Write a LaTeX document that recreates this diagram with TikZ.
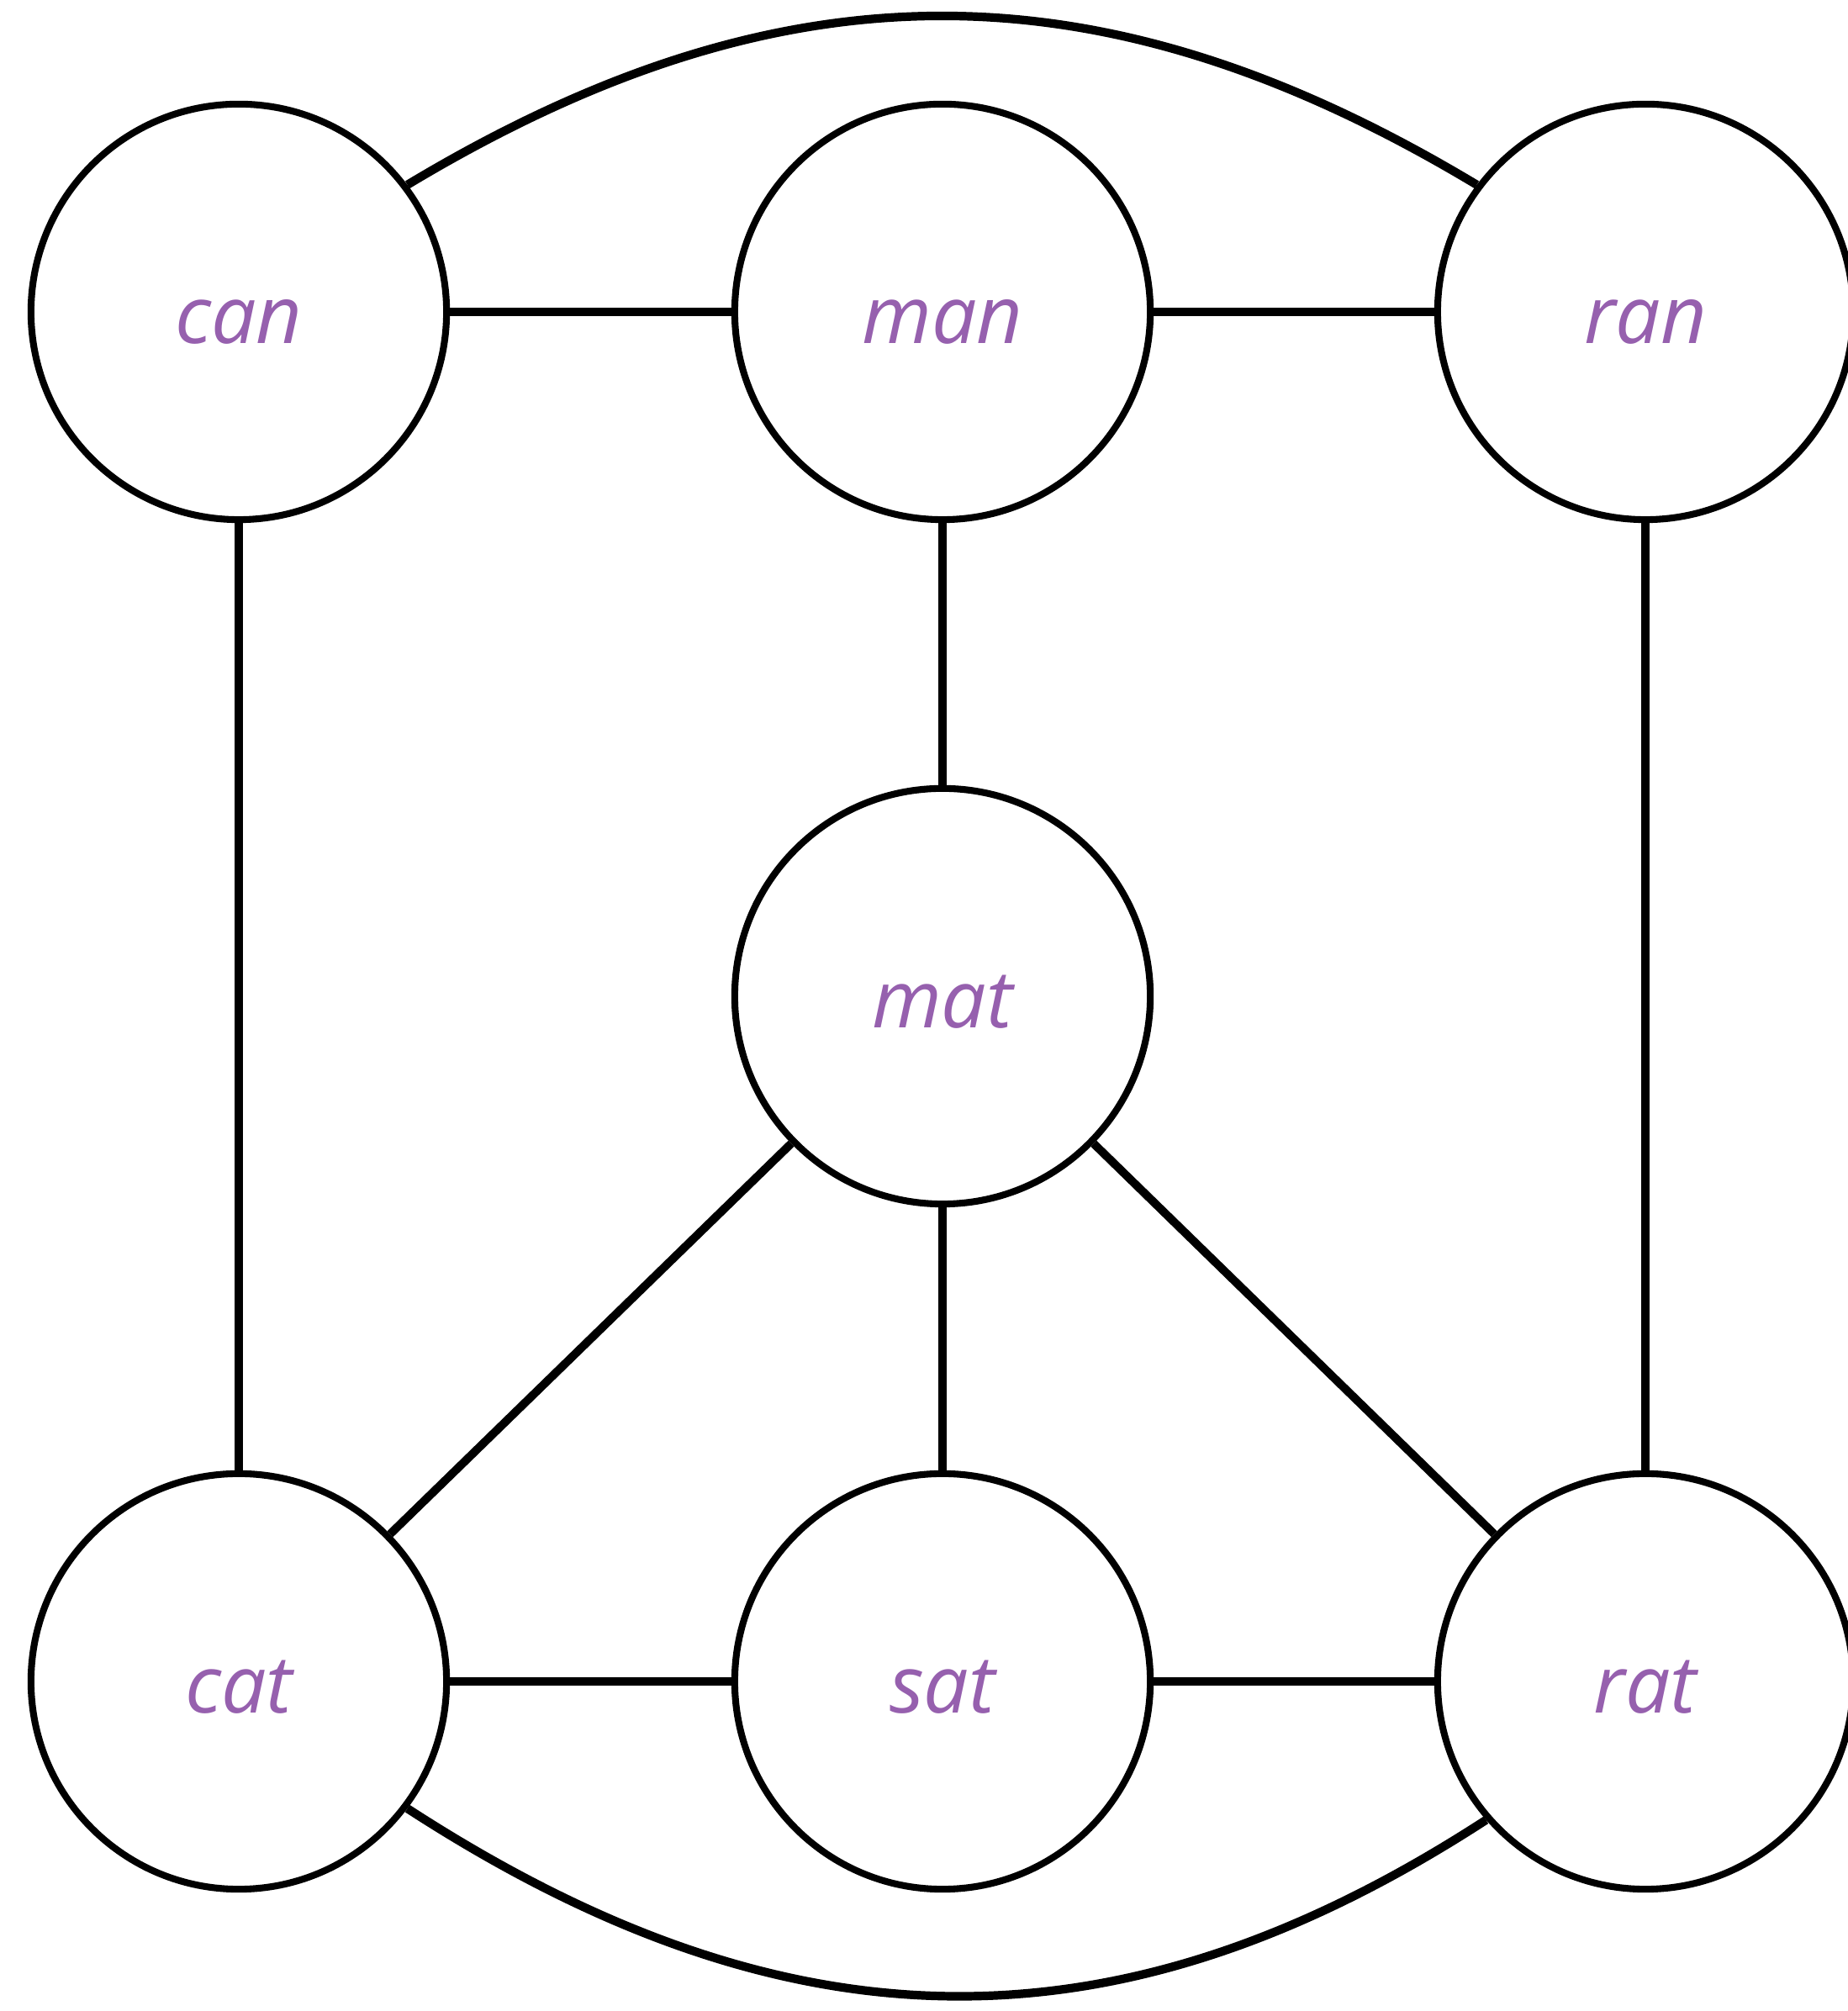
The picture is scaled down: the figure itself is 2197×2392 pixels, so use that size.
\documentclass[tikz,border=0pt]{standalone}
\usepackage{fontspec}
\setmainfont{Open Sans}
\usepackage{xcolor}
\usepackage{tikz}
\usetikzlibrary{calc}
\definecolor{wordpurple}{HTML}{9660AE}
\tikzset{
  word/.style={draw, circle, line width=2.3pt, minimum size=4.94cm, inner sep=0pt,
    text height=0.75cm, text depth=0pt,
    font=\fontsize{27}{30}\selectfont\itshape, text=wordpurple},
  link/.style={line width=2.8pt},
  longlink/.style={line width=2.9pt},
}

\begin{document}
\begin{tikzpicture}[x=0.01cm, y=0.01cm]
    \useasboundingbox (0,0) rectangle (2197,2392);

    % top row
    \node[word] (can) at (284,2021) {can};
    \node[word] (man) at (1121,2021) {man};
    \node[word] (ran) at (1957,2021) {ran};
    % middle
    \node[word] (mat) at (1121,1207) {mat};
    % bottom row
    \node[word] (cat) at (284,392) {cat};
    \node[word] (sat) at (1121,392) {sat};
    \node[word] (rat) at (1957,392) {rat};

    \draw[link] (can) -- (man);
    \draw[link] (man) -- (ran);
    \draw[link] (can) -- (cat);
    \draw[link] (ran) -- (rat);
    \draw[link] (man) -- (mat);
    \draw[link] (mat) -- (cat);
    \draw[link] (mat) -- (sat);
    \draw[link] (mat) -- (rat);
    \draw[link] (cat) -- (sat);
    \draw[link] (sat) -- (rat);

    % the two long bows round the outside
    \draw[longlink] (can.37) .. controls +(31:520) and +(149:520) .. (ran.143);
    \draw[longlink] (cat.-37) .. controls +(-33:540) and +(213:520) .. (rat.221);
\end{tikzpicture}
\end{document}
